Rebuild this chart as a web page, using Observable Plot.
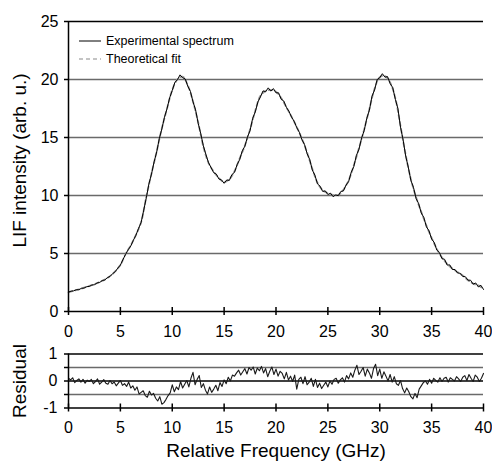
<!DOCTYPE html>
<html>
<head>
<meta charset="utf-8">
<script src="https://cdn.jsdelivr.net/npm/d3@7"></script>
<script src="https://cdn.jsdelivr.net/npm/@observablehq/plot@0.6"></script>
<style>
  html, body { margin: 0; padding: 0; background: #fff; }
  #chart { position: relative; width: 492px; height: 467px; font-family: "Liberation Sans", Arial, sans-serif; }
  #chart svg { display: block; }
  #legend { position: absolute; left: 0; top: 0; }
</style>
</head>
<body>
<div id="chart"></div>
<script>
// ---- Data ----
const xTicks = [0, 5, 10, 15, 20, 25, 30, 35, 40];
const yTicksTop = [0, 5, 10, 15, 20, 25];
const yTicksRes = [-1, -0.5, 0, 0.5, 1];
const seriesNames = ["Experimental spectrum", "Theoretical fit"];

// Experimental spectrum, sampled every 0.25 GHz from 0 to 40 GHz
const expStep = 0.25;
const expIntensity = [
  1.68, 1.75, 1.78, 1.88, 1.88, 2.00, 2.02, 2.14, 2.16, 2.28,
  2.31, 2.46, 2.50, 2.67, 2.72, 2.92, 3.02, 3.26, 3.43, 3.74,
  4.00, 4.48, 4.92, 5.32, 5.64, 6.14, 6.58, 7.16, 7.68, 8.74,
  9.80, 11.00, 11.85, 12.90, 13.75, 14.90, 15.75, 16.75, 17.50, 18.42,
  19.05, 19.75, 19.98, 20.40, 20.15, 20.05, 19.42, 18.98, 18.08, 17.38,
  16.22, 15.32, 14.28, 13.52, 12.82, 12.40, 11.96, 11.84, 11.42, 11.34,
  11.05, 11.34, 11.30, 11.80, 12.00, 12.65, 13.10, 13.85, 14.25, 15.05,
  15.60, 16.65, 17.20, 18.05, 18.50, 19.02, 18.95, 19.28, 19.00, 19.22,
  18.85, 18.85, 18.30, 18.15, 17.60, 17.25, 16.75, 16.40, 15.85, 15.45,
  14.80, 14.40, 13.60, 13.10, 12.20, 11.75, 11.00, 10.80, 10.35, 10.40,
  10.08, 10.20, 9.90, 10.05, 9.98, 10.35, 10.40, 10.90, 11.20, 12.00,
  12.50, 13.45, 14.00, 14.95, 15.60, 16.65, 17.35, 18.55, 19.10, 20.00,
  20.15, 20.50, 20.20, 20.25, 19.65, 19.30, 18.30, 17.50, 15.90, 14.80,
  13.40, 12.45, 11.30, 10.70, 9.75, 9.30, 8.50, 8.10, 7.30, 6.95,
  6.25, 5.95, 5.30, 5.08, 4.55, 4.50, 4.00, 4.02, 3.62, 3.62,
  3.32, 3.30, 3.02, 3.00, 2.70, 2.70, 2.36, 2.46, 2.12, 2.26,
  1.90
];

// Theoretical fit, sampled every 0.5 GHz
const fitStep = 0.5;
const fitIntensity = [
  1.65, 1.80, 1.90, 2.05, 2.20, 2.35, 2.55, 2.75, 3.05, 3.45,
  4.00, 4.95, 5.70, 6.60, 7.70, 9.90, 11.90, 13.80, 15.80, 17.50,
  19.10, 20.00, 20.25, 19.50, 18.10, 16.30, 14.20, 12.80, 12.05, 11.50,
  11.15, 11.40, 12.10, 13.20, 14.30, 15.70, 17.30, 18.60, 19.00, 19.10,
  18.95, 18.40, 17.60, 16.80, 15.90, 14.90, 13.70, 12.30, 11.10, 10.45,
  10.20, 10.05, 10.05, 10.50, 11.30, 12.60, 14.10, 15.70, 17.45, 19.20,
  20.20, 20.30, 19.75, 18.40, 16.00, 13.50, 11.40, 9.85, 8.60, 7.40,
  6.35, 5.40, 4.65, 4.10, 3.70, 3.40, 3.10, 2.70, 2.40, 2.25,
  1.95
];

// Residual, sampled every 0.2 GHz
const resStep = 0.2;
const residual = [
  0.10, 0.04, 0.12, -0.06, 0.02, 0.08, -0.04, 0.06, -0.08, 0.03,
  -0.02, 0.06, -0.10, -0.02, 0.08, -0.12, -0.04, 0.05, -0.08, -0.12,
  0.02, -0.10, -0.04, -0.18, -0.08, 0.02, -0.16, -0.10, -0.20, -0.04,
  -0.26, -0.18, -0.34, -0.22, -0.48, -0.42, -0.36, -0.54, -0.60, -0.38,
  -0.52, -0.46, -0.64, -0.74, -0.58, -0.86, -0.80, -0.68, -0.54, -0.44,
  -0.14, -0.40, -0.22, -0.32, -0.02, -0.26, -0.12, 0.02, -0.22, 0.10,
  0.32, -0.14, 0.06, 0.20, -0.24, -0.10, -0.34, -0.48, -0.22, -0.42,
  -0.30, -0.16, -0.36, -0.06, -0.20, 0.04, -0.10, 0.14, 0.00, 0.22,
  0.18, 0.30, 0.40, 0.22, 0.34, 0.46, 0.26, 0.50, 0.40, 0.52,
  0.26, 0.48, 0.38, 0.54, 0.30, 0.46, 0.16, 0.36, 0.52, 0.24,
  0.44, 0.18, 0.36, 0.28, 0.08, 0.32, 0.04, 0.18, -0.02, 0.22,
  -0.30, 0.06, 0.14, -0.10, 0.16, -0.14, -0.04, 0.10, -0.20, 0.06,
  -0.24, -0.08, -0.28, -0.16, -0.04, -0.22, 0.00, -0.12, 0.06, 0.10,
  -0.08, 0.04, 0.12, -0.04, 0.20, 0.08, 0.30, 0.14, 0.40, 0.58,
  0.24, 0.36, 0.50, 0.18, 0.44, 0.30, 0.10, 0.46, 0.62, 0.20,
  0.44, 0.10, 0.34, 0.18, 0.00, 0.24, -0.04, 0.16, -0.10, -0.16,
  0.02, -0.28, -0.44, -0.26, -0.40, -0.58, -0.66, -0.46, -0.62, -0.30,
  -0.18, -0.06, 0.00, -0.12, 0.06, -0.08, 0.10, 0.02, -0.04, 0.12,
  -0.02, 0.10, 0.14, -0.04, 0.12, 0.06, 0.00, 0.16, 0.08, -0.02,
  0.14, 0.20, 0.02, 0.24, 0.10, -0.02, 0.22, 0.14, -0.02, 0.10,
  0.28
];

// ---- Tables ----
const expData = expIntensity.map((v, i) => ({f: i * expStep, v}));
const fitData = fitIntensity.map((v, i) => ({f: i * fitStep, v}));
const resData = residual.map((v, i) => ({f: i * resStep, v}));

const FONT = "'Liberation Sans', Arial, sans-serif";
const GRID = "#6a6a6a";

const topPlot = Plot.plot({
  width: 492, height: 340,
  marginLeft: 68, marginRight: 9, marginTop: 21, marginBottom: 29,
  style: {fontFamily: FONT, fontSize: "16px", background: "#fff", color: "#000"},
  x: {domain: [0, 40]},
  y: {domain: [0, 25]},
  marks: [
    Plot.ruleY(yTicksTop.filter(d => d > 0 && d < 25), {stroke: GRID, strokeWidth: 1.5}),
    Plot.ruleY([25], {stroke: "#000", strokeWidth: 1.5}),
    Plot.line(fitData, {x: "f", y: "v", curve: "catmull-rom", stroke: "#9a9a9a", strokeWidth: 1.8, strokeDasharray: "4,3"}),
    Plot.line(expData, {x: "f", y: "v", stroke: "#000", strokeWidth: 1}),
    Plot.ruleY([0], {stroke: "#000", strokeWidth: 1.5}),
    Plot.ruleX([0], {stroke: "#000", strokeWidth: 1.5}),
    Plot.axisX({ticks: xTicks, tickSize: 8, dy: -4, tickFormat: () => "", label: null, strokeWidth: 1.5}),
    Plot.axisX({ticks: xTicks, tickSize: 0, tickPadding: 14, label: null}),
    Plot.axisY({ticks: yTicksTop, tickSize: 4, tickPadding: 6, label: null, strokeWidth: 1.5}),
    Plot.text(["LIF intensity (arb. u.)"], {frameAnchor: "left", textAnchor: "middle", dx: -49, dy: -6, rotate: -90, fontSize: 19})
  ]
});

const bottomPlot = Plot.plot({
  width: 492, height: 127,
  marginLeft: 68, marginRight: 9, marginTop: 13.5, marginBottom: 59.5,
  style: {fontFamily: FONT, fontSize: "16px", background: "#fff", color: "#000"},
  x: {domain: [0, 40]},
  y: {domain: [-1, 1]},
  marks: [
    Plot.ruleY([-0.5, 0.5], {stroke: GRID, strokeWidth: 1.5}),
    Plot.ruleY([0, 1], {stroke: "#000", strokeWidth: 1.5}),
    Plot.line(resData, {x: "f", y: "v", stroke: "#1a1a1a", strokeWidth: 1.1}),
    Plot.ruleY([-1], {stroke: "#000", strokeWidth: 1.5}),
    Plot.ruleX([0], {stroke: "#000", strokeWidth: 1.5}),
    Plot.axisX({ticks: xTicks, tickSize: 8, dy: -4, tickFormat: () => "", label: null, strokeWidth: 1.5}),
    Plot.axisX({ticks: xTicks, tickSize: 0, tickPadding: 14, label: null}),
    Plot.axisY({ticks: yTicksRes, tickSize: 4, tickPadding: 7, label: null, strokeWidth: 1.5,
      tickFormat: d => Number.isInteger(d) ? String(d) : ""}),
    Plot.text(["Residual"], {frameAnchor: "left", textAnchor: "middle", dx: -49, rotate: -90, fontSize: 19}),
    Plot.text(["Relative Frequency (GHz)"], {frameAnchor: "bottom", dy: 48.5, fontSize: 19})
  ]
});

const chart = document.getElementById("chart");
chart.appendChild(topPlot);
chart.appendChild(bottomPlot);

// Legend (line samples + labels) in the top-left of the upper panel
const legend = d3.create("svg")
  .attr("id", "legend")
  .attr("width", 260).attr("height", 70)
  .style("font-family", FONT).style("font-size", "12.5px");
const styles = [
  {stroke: "#000", dash: null, width: 1},
  {stroke: "#8a8a8a", dash: "4,3", width: 1.2}
];
seriesNames.forEach((name, i) => {
  const y = 41 + i * 18;
  legend.append("line")
    .attr("x1", 79).attr("x2", 101).attr("y1", y).attr("y2", y)
    .attr("stroke", styles[i].stroke).attr("stroke-width", styles[i].width)
    .attr("stroke-dasharray", styles[i].dash);
  legend.append("text")
    .attr("x", 106).attr("y", y).attr("dy", "0.35em")
    .text(name);
});
chart.appendChild(legend.node());
</script>
</body>
</html>
